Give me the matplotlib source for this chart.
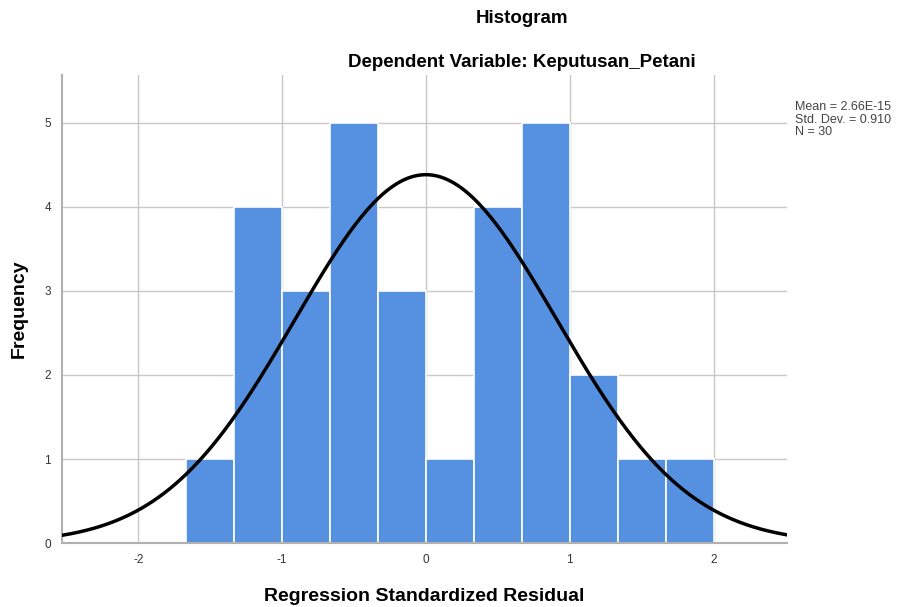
import numpy as np
import matplotlib
matplotlib.use("Agg")
import matplotlib.pyplot as plt

plt.rcParams["font.family"] = ["Liberation Sans", "DejaVu Sans"]
plt.rcParams["axes.unicode_minus"] = False

bin_edges = [-5/3, -4/3, -1, -2/3, -1/3, 0, 1/3, 2/3, 1, 4/3, 5/3, 2]
counts = [1, 4, 3, 5, 3, 1, 4, 5, 2, 1, 1]
mean = 0.0
std = 0.910
n = 30
xticks = [-2, -1, 0, 1, 2]
yticks = [0, 1, 2, 3, 4, 5]

fig = plt.figure(figsize=(9.05, 6.07), dpi=100)
ax = fig.add_axes([0.0685, 0.1054, 0.801, 0.771])

edges = np.array(bin_edges)
widths = np.diff(edges)
ax.bar(edges[:-1], counts, width=widths, align="edge", color="#5690e0",
       edgecolor="white", linewidth=1.2, zorder=2)

xs = np.linspace(-2.53, 2.51, 400)
bw = widths[0]
ys = n * bw / (std * np.sqrt(2 * np.pi)) * np.exp(-0.5 * ((xs - mean) / std) ** 2)
ax.plot(xs, ys, color="black", linewidth=2.5, zorder=3)

ax.set_xlim(-2.53, 2.51)
ax.set_ylim(0, 5.57)
ax.set_xticks(xticks)
ax.set_yticks(yticks)
ax.grid(True, color="#c8c8c8", linewidth=1, zorder=0)
ax.set_axisbelow(True)
for s in ["top", "right"]:
    ax.spines[s].set_visible(False)
for s in ["left", "bottom"]:
    ax.spines[s].set_color("#b0b0b0")
    ax.spines[s].set_linewidth(1.5)
ax.tick_params(length=0, labelsize=8.5, colors="#333333", pad=8)

ax.set_xlabel("Regression Standardized Residual", fontsize=14, fontweight="bold", labelpad=16)
ax.set_ylabel("Frequency", fontsize=14, fontweight="bold", labelpad=12)

fig.text(0.577, 0.97, "Histogram", ha="center", va="center", fontsize=13.5, fontweight="bold")
fig.text(0.577, 0.897, "Dependent Variable: Keputusan_Petani", ha="center", va="center",
         fontsize=13.5, fontweight="bold")
fig.text(0.879, 0.803, "Mean = 2.66E-15\nStd. Dev. = 0.910\nN = 30", ha="left", va="center",
         fontsize=9, color="#444444", linespacing=1.1)

fig.savefig("out.png", dpi=100)
